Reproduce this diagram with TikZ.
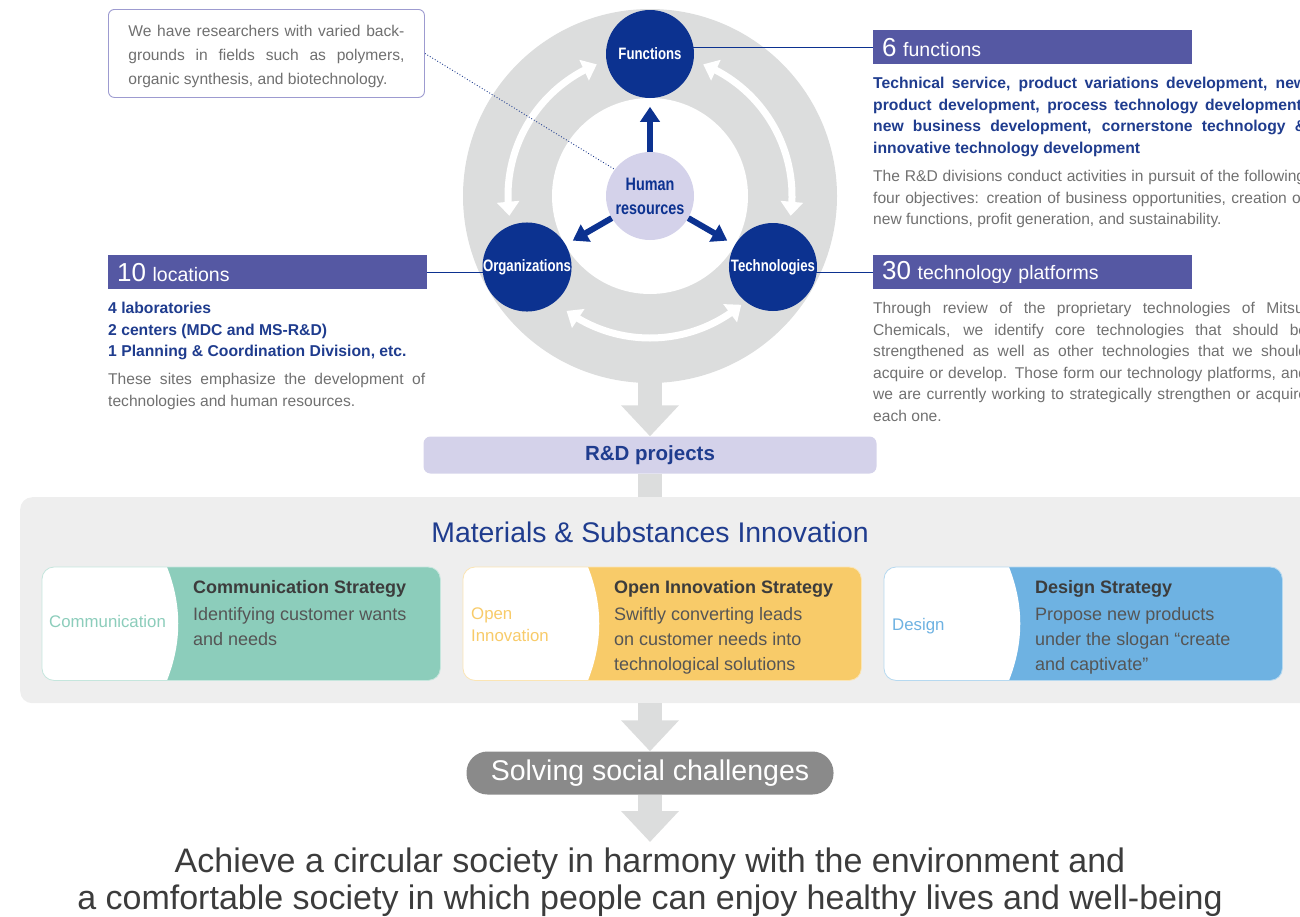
\documentclass[tikz,border=0pt]{standalone}
\usepackage{fontspec}
\setmainfont{Liberation Sans}
\newfontfamily\narrowfont[FakeStretch=0.8]{Liberation Sans}
\usetikzlibrary{arrows.meta, bending, positioning, backgrounds}

\definecolor{ringgray}{HTML}{DCDDDD}
\definecolor{panelgray}{HTML}{EEEEEE}
\definecolor{navy}{HTML}{0C3290}
\definecolor{textblue}{HTML}{1F3C8E}
\definecolor{labelbg}{HTML}{5558A3}
\definecolor{lavender}{HTML}{D4D2EA}
\definecolor{noteline}{HTML}{9D9BD0}
\definecolor{bodygray}{HTML}{707070}
\definecolor{darktext}{HTML}{3C3C3C}
\definecolor{cardtext}{HTML}{555555}
\definecolor{commcol}{HTML}{8CCDBB}
\definecolor{opencol}{HTML}{F8CB69}
\definecolor{designcol}{HTML}{6EB2E2}
\definecolor{pillgray}{HTML}{8A8A8A}

\newcommand{\fsize}[2]{\fontsize{#1}{#2}\selectfont}
\newcommand{\countnum}[1]{{\fsize{26}{26}#1}}

\tikzset{
  x=1pt, y=1pt, % one unit is one pixel of the layout
  hub/.style={circle, fill=navy, minimum size=88pt, inner sep=0pt,
    text=white, font=\narrowfont\bfseries\fsize{16.5}{18}}, % the three pillars
  countbox/.style={fill=labelbg, text=white, anchor=north west,
    minimum height=34pt, text width=301pt, inner xsep=9pt, inner ysep=0pt,
    font=\fsize{19.5}{22}},
  leader/.style={draw=navy, line width=0.9pt},
  bluetext/.style={anchor=north west, inner sep=0pt, text=textblue,
    font=\bfseries\fsize{15.7}{21.5}},
  graytext/.style={anchor=north west, inner sep=0pt, text=bodygray,
    align=justify, font=\fsize{15.6}{21.5}},
  bigarrow/.style={draw=ringgray, line width=24pt,
    -{Triangle[width=56pt, length=31pt]}}, % the wide gray flow arrows
}

\begin{document}
\begin{tikzpicture}[
    core/.style={circle, fill=lavender, minimum size=88pt, inner sep=0pt,
      text=navy, align=center, font=\narrowfont\bfseries\fsize{18}{24}},
    ringarrow/.style={draw=white, line width=7pt,
      {Triangle[width=22pt,length=14pt]}-{Triangle[width=22pt,length=14pt]}},
    hrarrow/.style={draw=navy, line width=6pt, -{Triangle[width=19pt,length=15pt]}},
    note/.style={anchor=north west, draw=noteline, line width=0.9pt, fill=white,
      rounded corners=6pt, text width=276pt, inner xsep=20pt, inner ysep=0pt,
      minimum height=88pt, align=justify, text=bodygray, font=\fsize{15.6}{24}},
    rdbox/.style={fill=lavender, rounded corners=7pt, minimum width=453pt,
      minimum height=37pt, text=textblue, font=\bfseries\fsize{20.5}{22}},
    panel/.style={fill=panelgray, rounded corners=12pt, anchor=north west,
      minimum width=1310pt, minimum height=206pt},
    card/.style={fill=#1, anchor=north west, minimum width=398pt,
      minimum height=113pt, rounded corners=12pt},
    cardedge/.style={draw=#1!50, line width=0.8pt, rounded corners=12pt},
    cardhead/.style={anchor=base west, inner sep=0pt, text=darktext,
      font=\bfseries\fsize{18}{20}},
    cardbody/.style={anchor=north west, inner sep=0pt, text=cardtext,
      align=left, font=\fsize{18}{25}},
    cardtag/.style={inner sep=0pt, text=#1, align=left, font=\fsize{16.8}{22}},
    pill/.style={fill=pillgray, rounded corners=21pt, minimum width=367pt,
      minimum height=43pt, text=white, font=\fsize{28.5}{30}},
    goal/.style={anchor=north, inner sep=0pt, align=center, text=darktext,
      font=\fsize{34}{36.5}},
  ]
  \useasboundingbox (0,0) rectangle (1300,-916);
  \clip (0,0) rectangle (1300,-916);

  % gray ring with the white exchange arrows
  \coordinate (ring) at (650,-196);
  \begin{scope}[on background layer]
    \fill[ringgray] (ring) circle[radius=187];
    \fill[white] (ring) circle[radius=98];
    \foreach \a in {112, 234, 352}
      \draw[ringarrow] ([shift={(\a:142)}]ring) arc[start angle=\a, delta angle=76, radius=142];
  \end{scope}

  \node[hub] (functions) at ([shift={(90:142)}]ring) {Functions};
  \node[hub] (orgs) at ([shift={(210:142)}]ring) {Organizations};
  \node[hub] (tech) at ([shift={(330:142)}]ring) {Technologies};
  \node[core] (hr) at (ring) {Human\\resources};

  \foreach \a in {90, 210, 330} {
    \coordinate (tip\a) at ([shift={(\a:45)}]hr.\a);
    \draw[hrarrow] (hr.\a) -- (tip\a);
  }

  \node[note] (note) at (108,-9) {We have researchers with varied back-\linebreak
    grounds in fields such as polymers,\linebreak organic synthesis, and biotechnology.\par
    \vspace{-6pt}};

  % side panels
  \node[countbox] (fnlabel) at (873,-30) {\countnum{6} functions};
  \node[bluetext, text width=433pt, align=justify, below=13pt of fnlabel.south west,
    anchor=north west] (fnlist) {Technical service, product variations development, new\linebreak
    product development, process technology development,\linebreak
    new business development, cornerstone technology \&\linebreak
    innovative technology development};
  \node[graytext, text width=432pt] (fndesc) at (873,-170) {The R\&D divisions conduct
    activities in pursuit of the following\linebreak four objectives: creation of business
    opportunities, creation of\linebreak new functions, profit generation, and sustainability.};

  \node[countbox] (techlabel) at (873,-255) {\countnum{30} technology platforms};
  \node[graytext, text width=434pt, below=13pt of techlabel.south west,
    anchor=north west] (techdesc) {Through review of the proprietary technologies of Mitsui\linebreak
    Chemicals, we identify core technologies that should be\linebreak
    strengthened as well as other technologies that we should\linebreak
    acquire or develop. Those form our technology platforms, and\linebreak
    we are currently working to strategically strengthen or acquire\linebreak
    each one.};

  \node[countbox] (loclabel) at (108,-255) {\countnum{10} locations};
  \node[bluetext, align=left, below=13pt of loclabel.south west,
    anchor=north west] (loclist) {4 laboratories\\2 centers (MDC and MS-R\&D)\\
    1 Planning \& Coordination Division, etc.};
  \node[graytext, text width=317pt] (locdesc) at (108,-373) {These sites emphasize
    the development of\linebreak technologies and human resources.};

  \begin{scope}[on background layer]
    \draw[leader] (fnlabel.west) -- (fnlabel.west -| functions.center);
    \draw[leader] (techlabel.west) -- (techlabel.west -| tech.center);
    \draw[leader] (loclabel.east) -- (loclabel.east -| orgs.center);
    \draw[textblue, dotted, line width=0.9pt] (note.east) -- (hr.143);
  \end{scope}

  % flow down to the goal
  \node[rdbox] (rd) at (650,-455) {R\&D projects};
  \draw[bigarrow] ([yshift=-175]ring) -- (rd.north);

  \node[panel] (panel) at (20,-497) {};
  \draw[ringgray, line width=24pt] (rd.south) -- (rd.south |- panel.north);
  \node[anchor=base, text=textblue, font=\fsize{28.4}{30}] (msi) at (650,-542)
    {Materials \& Substances Innovation};

  \node[card=commcol] (comm) at (42,-567) {};
  \node[card=opencol] (open) at (463,-567) {};
  \node[card=designcol] (design) at (884,-567) {};
  \foreach \c/\col in {comm/commcol, open/opencol, design/designcol} {
    \begin{scope}
      \clip[rounded corners=12pt] (\c.north west) rectangle (\c.south east);
      \fill[white] (\c.north west) -- ([xshift=125]\c.north west)
        .. controls +(15,-38) and +(15,38) .. ([xshift=125]\c.south west)
        -- (\c.south west) -- cycle;
    \end{scope}
    \draw[cardedge=\col] (\c.north west) rectangle (\c.south east);
  }

  \node[cardtag=commcol, anchor=base west] (commtag) at ([shift={(7,-60)}]comm.north west) {Communication};
  \node[cardhead] (commhead) at ([shift={(151,-26)}]comm.north west) {Communication Strategy};
  \node[cardbody] (commtext) at ([shift={(151,-40)}]comm.north west) {Identifying customer wants\\and needs};

  \node[cardtag=opencol, anchor=north west] (opentag) at ([shift={(8,-41)}]open.north west) {Open\\Innovation};
  \node[cardhead] (openhead) at ([shift={(151,-26)}]open.north west) {Open Innovation Strategy};
  \node[cardbody] (opentext) at ([shift={(151,-40)}]open.north west) {Swiftly converting leads\\
    on customer needs into\\technological solutions};

  \node[cardtag=designcol, anchor=base west] (designtag) at ([shift={(8,-63)}]design.north west) {Design};
  \node[cardhead] (designhead) at ([shift={(151,-26)}]design.north west) {Design Strategy};
  \node[cardbody] (designtext) at ([shift={(151,-40)}]design.north west) {Propose new products\\
    under the slogan “create\\and captivate”};

  \node[pill] (solve) at (650,-773) {Solving social challenges};
  \draw[bigarrow] (solve.north |- panel.south) -- (solve.north);

  \node[goal] (goal) at (650,-848) {Achieve a circular society in harmony with the environment and\\
    a comfortable society in which people can enjoy healthy lives and well-being};
  \draw[bigarrow] (solve.south) -- ([yshift=6pt]goal.north);
\end{tikzpicture}
\end{document}
